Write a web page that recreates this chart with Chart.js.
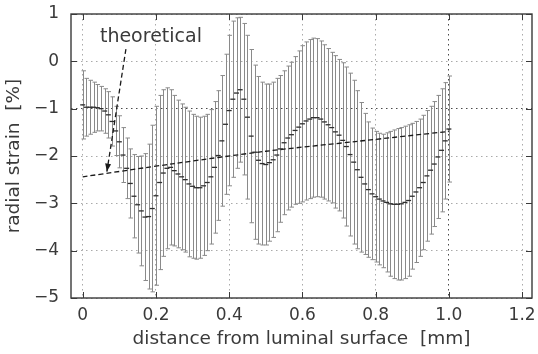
<!DOCTYPE html>
<html><head><meta charset="utf-8">
<script src="https://cdn.jsdelivr.net/npm/chart.js@4.4.1/dist/chart.umd.min.js"></script>
<style>html,body{margin:0;padding:0;background:#fff}#wrap{width:538px;height:354px}</style>
</head><body><div id="wrap"><canvas id="c" width="538" height="354"></canvas></div>
<script>
// distance from luminal surface [mm]
const distance = [0.00,0.01,0.02,0.03,0.04,0.05,0.06,0.07,0.08,0.09,
  0.10,0.11,0.12,0.13,0.14,0.15,0.16,0.17,0.18,0.19,
  0.20,0.21,0.22,0.23,0.24,0.25,0.26,0.27,0.28,0.29,
  0.30,0.31,0.32,0.33,0.34,0.35,0.36,0.37,0.38,0.39,
  0.40,0.41,0.42,0.43,0.44,0.45,0.46,0.47,0.48,0.49,
  0.50,0.51,0.52,0.53,0.54,0.55,0.56,0.57,0.58,0.59,
  0.60,0.61,0.62,0.63,0.64,0.65,0.66,0.67,0.68,0.69,
  0.70,0.71,0.72,0.73,0.74,0.75,0.76,0.77,0.78,0.79,
  0.80,0.81,0.82,0.83,0.84,0.85,0.86,0.87,0.88,0.89,
  0.90,0.91,0.92,0.93,0.94,0.95,0.96,0.97,0.98,0.99,1.00];
// mean radial strain [%]
const meanStrain = [-0.92,-0.97,-0.97,-0.97,-0.98,-1.00,-1.05,-1.13,-1.27,-1.47,
  -1.70,-1.98,-2.26,-2.58,-2.85,-3.03,-3.16,-3.29,-3.28,-3.11,
  -2.84,-2.56,-2.36,-2.26,-2.24,-2.31,-2.38,-2.44,-2.50,-2.59,
  -2.64,-2.67,-2.67,-2.63,-2.56,-2.44,-2.24,-1.99,-1.68,-1.33,
  -1.04,-0.80,-0.67,-0.60,-0.80,-1.18,-1.58,-1.92,-2.09,-2.16,
  -2.18,-2.14,-2.08,-1.98,-1.85,-1.72,-1.62,-1.55,-1.46,-1.39,
  -1.32,-1.26,-1.22,-1.19,-1.19,-1.22,-1.28,-1.34,-1.40,-1.49,
  -1.56,-1.67,-1.80,-1.97,-2.13,-2.29,-2.45,-2.59,-2.71,-2.80,
  -2.86,-2.91,-2.95,-2.98,-3.01,-3.02,-3.02,-3.01,-2.98,-2.94,
  -2.85,-2.76,-2.67,-2.56,-2.42,-2.30,-2.17,-2.02,-1.88,-1.68,-1.43];
// standard deviation (error bar half-length) [%]
const sdStrain = [0.72,0.61,0.57,0.53,0.49,0.47,0.47,0.49,0.52,0.52,
  0.55,0.58,0.64,0.73,0.88,1.02,1.16,1.34,1.53,1.76,
  1.89,1.84,1.76,1.70,1.64,1.59,1.56,1.54,1.53,1.54,
  1.52,1.51,1.49,1.47,1.44,1.42,1.39,1.37,1.38,1.48,
  1.59,1.65,1.59,1.53,1.60,1.73,1.83,1.84,1.77,1.72,
  1.70,1.66,1.64,1.62,1.55,1.52,1.52,1.53,1.56,1.61,
  1.65,1.67,1.68,1.68,1.67,1.65,1.63,1.61,1.59,1.61,
  1.60,1.64,1.68,1.72,1.73,1.67,1.58,1.49,1.43,1.39,
  1.38,1.39,1.41,1.47,1.53,1.57,1.60,1.61,1.61,1.60,
  1.54,1.49,1.45,1.42,1.38,1.35,1.32,1.30,1.30,1.23,1.12];
// theoretical curve
const theoryX = [0.00, 0.25, 0.50, 0.75, 1.00];
const theoryY = [-2.44, -2.16, -1.90, -1.69, -1.48];
// tick labels
const xTicks = [0, 0.2, 0.4, 0.6, 0.8, 1.0, 1.2];
const xTickLabels = ['0', '0.2', '0.4', '0.6', '0.8', '1.0', '1.2'];
const yTicks = [1, 0, -1, -2, -3, -4, -5];
const yTickLabels = ['1', '0', '\u22121', '\u22122', '\u22123', '\u22124', '\u22125'];
const annotationText = 'theoretical';

const FONT = 'DejaVu Sans';
const TXT = '#3a3a3a';

const errorBars = {
  id: 'errorBars',
  beforeDatasetsDraw(chart) {
    const {ctx, scales: {x, y}} = chart;
    ctx.save();
    ctx.strokeStyle = '#8a8a8a';
    ctx.lineWidth = 1;
    distance.forEach((d, i) => {
      const px = Math.round(x.getPixelForValue(d)) + 0.5;
      const yt = y.getPixelForValue(meanStrain[i] + sdStrain[i]);
      const yb = y.getPixelForValue(meanStrain[i] - sdStrain[i]);
      ctx.beginPath();
      ctx.moveTo(px, yt); ctx.lineTo(px, yb);
      ctx.moveTo(px - 2, yt); ctx.lineTo(px + 2.5, yt);
      ctx.moveTo(px - 2, yb); ctx.lineTo(px + 2.5, yb);
      ctx.stroke();
    });
    ctx.restore();
  }
};

const frame = {
  id: 'frame',
  afterDraw(chart) {
    const {ctx, chartArea: a, scales: {x, y}} = chart;
    ctx.save();
    ctx.strokeStyle = '#3a3a3a';
    ctx.lineWidth = 1.4;
    ctx.strokeRect(a.left, a.top, a.right - a.left, a.bottom - a.top);
    ctx.lineWidth = 1;
    ctx.beginPath();
    const tl = 6;
    xTicks.forEach(v => {
      const px = Math.round(x.getPixelForValue(v)) + 0.5;
      ctx.moveTo(px, a.bottom); ctx.lineTo(px, a.bottom - tl);
      ctx.moveTo(px, a.top); ctx.lineTo(px, a.top + tl);
    });
    yTicks.forEach(v => {
      const py = Math.round(y.getPixelForValue(v)) + 0.5;
      ctx.moveTo(a.left, py); ctx.lineTo(a.left + tl, py);
      ctx.moveTo(a.right, py); ctx.lineTo(a.right - tl, py);
    });
    ctx.stroke();

    // annotation
    ctx.fillStyle = TXT;
    ctx.font = '19px "' + FONT + '"';
    ctx.textBaseline = 'middle';
    ctx.textAlign = 'left';
    ctx.fillText(annotationText, x.getPixelForValue(0.047), y.getPixelForValue(0.51));
    const x0 = x.getPixelForValue(0.118), y0 = y.getPixelForValue(0.26);
    const x1 = x.getPixelForValue(0.066), y1 = y.getPixelForValue(-2.33);
    ctx.strokeStyle = '#1a1a1a';
    ctx.lineWidth = 1.3;
    ctx.setLineDash([5, 3]);
    ctx.beginPath(); ctx.moveTo(x0, y0); ctx.lineTo(x1, y1); ctx.stroke();
    ctx.setLineDash([]);
    const ang = Math.atan2(y1 - y0, x1 - x0);
    const L = 8, W = 3;
    ctx.fillStyle = '#1a1a1a';
    ctx.beginPath();
    ctx.moveTo(x1, y1);
    ctx.lineTo(x1 - L * Math.cos(ang) + W * Math.sin(ang), y1 - L * Math.sin(ang) - W * Math.cos(ang));
    ctx.lineTo(x1 - L * Math.cos(ang) - W * Math.sin(ang), y1 - L * Math.sin(ang) + W * Math.cos(ang));
    ctx.closePath(); ctx.fill();
    ctx.restore();
  }
};

const gridColor = (emph) => (c) => (c.tick && Math.abs(c.tick.value - emph) < 1e-9) ? '#4a4a4a' : '#aaaaaa';

new Chart(document.getElementById('c'), {
  type: 'scatter',
  data: {
    datasets: [
      {
        label: 'mean',
        data: distance.map((d, i) => ({x: d, y: meanStrain[i]})),
        showLine: false, pointStyle: 'line', pointRadius: 2.5,
        pointBorderColor: '#2e2e2e', pointBorderWidth: 1.3, borderColor: '#2e2e2e'
      },
      {
        label: 'theoretical',
        data: theoryX.map((d, i) => ({x: d, y: theoryY[i]})),
        showLine: true, borderColor: '#1a1a1a', borderWidth: 1.3,
        borderDash: [5, 3], pointRadius: 0, tension: 0.3
      }
    ]
  },
  options: {
    responsive: false, animation: false, devicePixelRatio: 1,
    layout: {padding: {top: 14, right: 6, left: 0, bottom: 0}},
    plugins: {legend: {display: false}, tooltip: {enabled: false}},
    scales: {
      x: {
        type: 'linear', min: -0.032, max: 1.227,
        afterBuildTicks: s => { s.ticks = xTicks.map(v => ({value: v})); },
        afterFit: s => { s.height = 56; s.paddingLeft = 0; s.paddingRight = 0; },
        ticks: {
          autoSkip: false, maxRotation: 0, padding: 7,
          callback: (v) => { const k = xTicks.findIndex(t => Math.abs(t - v) < 1e-9); return k >= 0 ? xTickLabels[k] : ''; },
          font: {family: FONT, size: 17}, color: TXT
        },
        grid: {color: gridColor(1.0), lineWidth: 1, drawTicks: false},
        border: {display: false, dash: [1.5, 3.5]},
        title: {display: true, text: 'distance from luminal surface  [mm]',
          font: {family: FONT, size: 18.5}, color: TXT, padding: {top: 0, bottom: 4}}
      },
      y: {
        type: 'linear', min: -5, max: 1,
        afterBuildTicks: s => { s.ticks = yTicks.map(v => ({value: v})); },
        afterFit: s => { s.width = 71; s.paddingTop = 0; s.paddingBottom = 0; },
        ticks: {
          autoSkip: false, padding: 12,
          callback: (v) => { const k = yTicks.findIndex(t => Math.abs(t - v) < 1e-9); return k >= 0 ? yTickLabels[k] : ''; },
          font: {family: FONT, size: 17}, color: TXT
        },
        grid: {color: gridColor(-1), lineWidth: 1, drawTicks: false},
        border: {display: false, dash: [1.5, 3.5]},
        title: {display: true, text: 'radial strain  [%]',
          font: {family: FONT, size: 18.5}, color: TXT, padding: {top: 3, bottom: 0}}
      }
    }
  },
  plugins: [errorBars, frame]
});
</script></body></html>
